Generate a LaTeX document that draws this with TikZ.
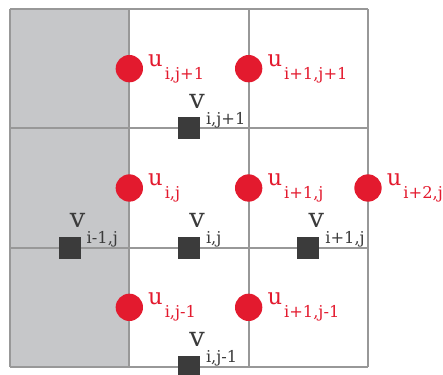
\documentclass[tikz,border=0pt]{standalone}
\usepackage{fontspec}
\setmainfont{DejaVu Serif}
\usepackage{tikz}
\usetikzlibrary{positioning}

\definecolor{cellgray}{RGB}{198,199,201}
\definecolor{linegray}{RGB}{152,152,152}
\definecolor{dotred}{RGB}{227,26,46}
\definecolor{sqdark}{RGB}{59,59,59}

\newcommand{\ulbl}[1]{{\fontsize{17}{17}\selectfont u}\hspace{1.5pt}\raisebox{-9.75pt}{\fontsize{12.2}{12.2}\selectfont #1}}
\newcommand{\vlbl}[1]{{\fontsize{20.5}{20.5}\selectfont v}\hspace{1pt}\raisebox{-12pt}{\fontsize{12.2}{12.2}\selectfont #1}}

\begin{document}
\begin{tikzpicture}[
x=89.5pt,
y=89.5pt,
gridline/.style={
draw=linegray,
line width=1.5pt
},
udot/.style={
circle,
fill=dotred,
inner sep=0pt,
minimum size=20.5pt
},
vsq/.style={
rectangle,
fill=sqdark,
inner sep=0pt,
minimum size=16.5pt
},
ulabel/.style={
text=dotred,
inner sep=0pt,
yshift=1.8pt
},
vlabel/.style={
text=sqdark,
inner sep=0pt
}
]

\useasboundingbox (-0.0838,-0.067) rectangle (3.6286,3.0755);

%%%%%%%%%%%%%%%%%%%%%%%%%%%%%%%%%%%%%%%%%%%%%
% Grid
%%%%%%%%%%%%%%%%%%%%%%%%%%%%%%%%%%%%%%%%%%%%%

\fill[cellgray] (0,0) rectangle (1,3);

\foreach \k in {0,...,3}{
\draw[gridline] (\k,0)--(\k,3);
\draw[gridline] (0,\k)--(3,\k);
}

%%%%%%%%%%%%%%%%%%%%%%%%%%%%%%%%%%%%%%%%%%%%%
% u points
%%%%%%%%%%%%%%%%%%%%%%%%%%%%%%%%%%%%%%%%%%%%%

\node[udot] (uijp1) at (1,2.5) {};
\node[udot] (uip1jp1) at (2,2.5) {};
\node[udot] (uij) at (1,1.5) {};
\node[udot] (uip1j) at (2,1.5) {};
\node[udot] (uip2j) at (3,1.5) {};
\node[udot] (uijm1) at (1,0.5) {};
\node[udot] (uip1jm1) at (2,0.5) {};

%%%%%%%%%%%%%%%%%%%%%%%%%%%%%%%%%%%%%%%%%%%%%
% v points
%%%%%%%%%%%%%%%%%%%%%%%%%%%%%%%%%%%%%%%%%%%%%

\node[vsq] (vijp1) at (1.5,2) {};
\node[vsq] (vim1j) at (0.5,1) {};
\node[vsq] (vij) at (1.5,1) {};
\node[vsq] (vip1j) at (2.5,1) {};
\node[vsq] (vijm1) at (1.5,0) {};

%%%%%%%%%%%%%%%%%%%%%%%%%%%%%%%%%%%%%%%%%%%%%
% Labels
%%%%%%%%%%%%%%%%%%%%%%%%%%%%%%%%%%%%%%%%%%%%%

\node[ulabel,right=3.5pt of uijp1,anchor=base west] (luijp1) {\ulbl{i,j+1}};
\node[ulabel,right=3.5pt of uip1jp1,anchor=base west] (luip1jp1) {\ulbl{i+1,j+1}};
\node[ulabel,right=3.5pt of uij,anchor=base west] (luij) {\ulbl{i,j}};
\node[ulabel,right=3.5pt of uip1j,anchor=base west] (luip1j) {\ulbl{i+1,j}};
\node[ulabel,right=3.5pt of uip2j,anchor=base west] (luip2j) {\ulbl{i+2,j}};
\node[ulabel,right=3.5pt of uijm1,anchor=base west] (luijm1) {\ulbl{i,j-1}};
\node[ulabel,right=3.5pt of uip1jm1,anchor=base west] (luip1jm1) {\ulbl{i+1,j-1}};

\node[vlabel,above=6.75pt of vijp1,anchor=base west] (lvijp1) {\vlbl{i,j+1}};
\node[vlabel,above=6.75pt of vim1j,anchor=base west] (lvim1j) {\vlbl{i-1,j}};
\node[vlabel,above=6.75pt of vij,anchor=base west] (lvij) {\vlbl{i,j}};
\node[vlabel,above=6.75pt of vip1j,anchor=base west] (lvip1j) {\vlbl{i+1,j}};
\node[vlabel,above=6.75pt of vijm1,anchor=base west] (lvijm1) {\vlbl{i,j-1}};

\end{tikzpicture}
\end{document}
